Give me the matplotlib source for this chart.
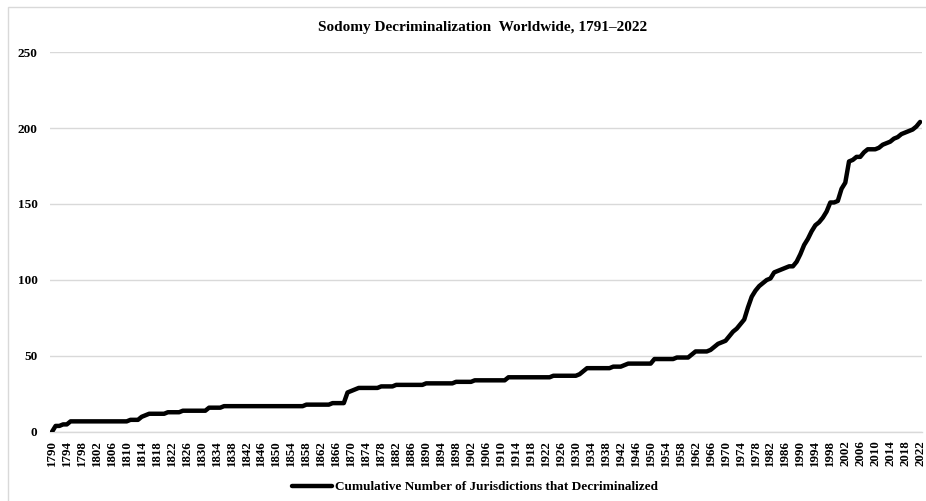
# Sodomy decriminalization worldwide - cumulative line chart
import numpy as np
import matplotlib
matplotlib.use('Agg')
import matplotlib.pyplot as plt
from matplotlib.patches import Rectangle

plt.rcParams['font.family'] = ['Liberation Serif', 'DejaVu Serif']
plt.rcParams['font.weight'] = 'bold'

# data
years = list(range(1790, 2023))
cumulative = [
    0, 4, 4, 5, 5, 7, 7, 7, 7, 7,                   # 1790s
    7, 7, 7, 7, 7, 7, 7, 7, 7, 7,                   # 1800s
    7, 8, 8, 8, 10, 11, 12, 12, 12, 12,             # 1810s
    12, 13, 13, 13, 13, 14, 14, 14, 14, 14,         # 1820s
    14, 14, 16, 16, 16, 16, 17, 17, 17, 17,         # 1830s
    17, 17, 17, 17, 17, 17, 17, 17, 17, 17,         # 1840s
    17, 17, 17, 17, 17, 17, 17, 17, 18, 18,         # 1850s
    18, 18, 18, 18, 18, 19, 19, 19, 19, 26,         # 1860s
    27, 28, 29, 29, 29, 29, 29, 29, 30, 30,         # 1870s
    30, 30, 31, 31, 31, 31, 31, 31, 31, 31,         # 1880s
    32, 32, 32, 32, 32, 32, 32, 32, 33, 33,         # 1890s
    33, 33, 33, 34, 34, 34, 34, 34, 34, 34,         # 1900s
    34, 34, 36, 36, 36, 36, 36, 36, 36, 36,         # 1910s
    36, 36, 36, 36, 37, 37, 37, 37, 37, 37,         # 1920s
    37, 38, 40, 42, 42, 42, 42, 42, 42, 42,         # 1930s
    43, 43, 43, 44, 45, 45, 45, 45, 45, 45,         # 1940s
    45, 48, 48, 48, 48, 48, 48, 49, 49, 49,         # 1950s
    49, 51, 53, 53, 53, 53, 54, 56, 58, 59,         # 1960s
    60, 63, 66, 68, 71, 74, 82, 89, 93, 96,         # 1970s
    98, 100, 101, 105, 106, 107, 108, 109, 109, 112,  # 1980s
    117, 123, 127, 132, 136, 138, 141, 145, 151, 151,  # 1990s
    152, 160, 164, 178, 179, 181, 181, 184, 186, 186,  # 2000s
    186, 187, 189, 190, 191, 193, 194, 196, 197, 198,  # 2010s
    199, 201, 204,                                  # 2020s
]
series_label = 'Cumulative Number of Jurisdictions that Decriminalized'
title = 'Sodomy Decriminalization  Worldwide, 1791\u20132022'
y_ticks = [0, 50, 100, 150, 200, 250]

fig = plt.figure(figsize=(9.26, 5.01), dpi=100)
fig.patches.append(Rectangle((8 / 926, -0.1), 1.2, 1 - 7 / 501 + 0.1,
                             transform=fig.transFigure, fill=False,
                             edgecolor='#d9d9d9', linewidth=1))
ax = fig.add_axes([50 / 926, 69 / 501, 872 / 926, 380 / 501])

x = np.arange(len(years))
line, = ax.plot(x, cumulative, color='black', linewidth=3.2,
                solid_joinstyle='round', solid_capstyle='round',
                label=series_label, zorder=3)

ax.set_xlim(-0.5, len(years) - 0.5)
ax.set_ylim(0, 250)
ax.set_yticks(y_ticks)
ax.set_yticklabels([str(v) for v in y_ticks], fontsize=9.5, fontweight='bold')
ax.set_xticks(x[::4])
ax.set_xticklabels([str(y) for y in years[::4]], rotation=90,
                   fontsize=9.3, fontweight='bold')
ax.tick_params(length=0, pad=6)
ax.tick_params(axis='y', pad=9)

ax.grid(axis='y', color='#d9d9d9', linewidth=1)
ax.set_axisbelow(True)
for side in ['top', 'right', 'left']:
    ax.spines[side].set_visible(False)
ax.spines['bottom'].set_color('#d9d9d9')
ax.spines['bottom'].set_linewidth(1)

fig.text(0.521, 1 - 27 / 501, title, ha='center', va='center',
         fontsize=11, fontweight='bold')

fig.legend(handles=[line], loc='center', bbox_to_anchor=(0.513, 14 / 501),
           frameon=False, handlelength=3.0, handletextpad=0.2,
           prop={'size': 9.5, 'weight': 'bold'})

fig.savefig('out.png', dpi=100)
